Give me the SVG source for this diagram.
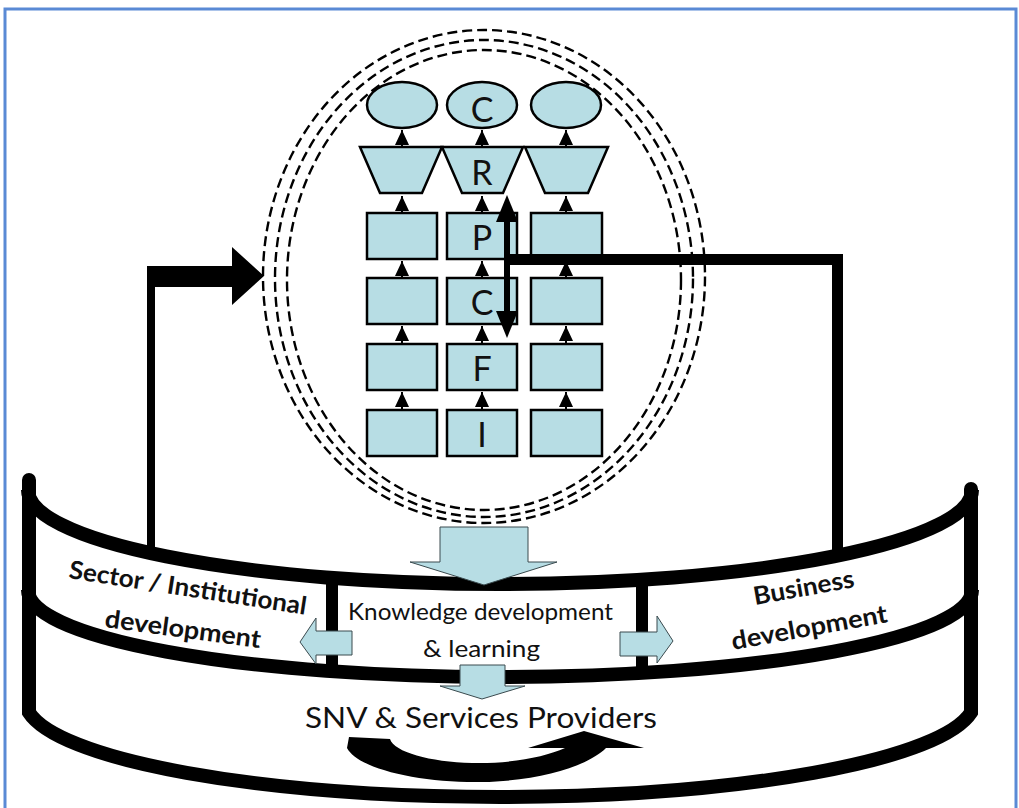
<svg xmlns="http://www.w3.org/2000/svg" width="1019" height="808" viewBox="0 0 1019 808">
  <defs>
    <style>
      .shape{fill:#b7dde4;stroke:#000;stroke-width:2.5}
      .ltr{font-family:Lato,"Open Sans","Liberation Sans",sans-serif;font-size:34px;fill:#111;text-anchor:middle}
      .orbit{fill:none;stroke:#000;stroke-width:2.4;stroke-dasharray:10 5}
      .band{fill:none;stroke:#000;stroke-width:14}
      .link{fill:none;stroke:#000;stroke-width:2;marker-end:url(#tri)}
      .flow{fill:#b7dde4;stroke:#3a4a4e;stroke-width:1}
      .lbl{font-family:Lato,"Open Sans","Liberation Sans",sans-serif;fill:#111}
      .bold{font-weight:bold;font-size:25px}
    </style>
    <marker id="tri" viewBox="0 0 15 14" refX="15" refY="7" markerWidth="15" markerHeight="14" markerUnits="userSpaceOnUse" orient="auto">
      <path d="M0,0 L15,7 L0,14 Z" fill="#000"/>
    </marker>
    <marker id="head" viewBox="0 0 27 22" refX="17" refY="11" markerWidth="27" markerHeight="22" markerUnits="userSpaceOnUse" orient="auto-start-reverse">
      <path d="M0,0 L27,11 L0,22 Z" fill="#000"/>
    </marker>
  </defs>

  <!-- page and frame -->
  <rect x="0" y="0" width="1019" height="808" fill="#fff"/>
  <rect x="5" y="9" width="1011" height="810" fill="#fff" stroke="#5a8ad5" stroke-width="3"/>

  <!-- dashed orbit rings -->
  <g id="orbit">
    <ellipse class="orbit" cx="484" cy="276.5" rx="221" ry="246.5"/>
    <ellipse class="orbit" cx="484" cy="278.5" rx="209" ry="238.5"/>
    <ellipse class="orbit" cx="484" cy="280" rx="197" ry="230"/>
  </g>

  <!-- ribbon base: three elliptical rims between two posts -->
  <g id="ribbon">
    <path class="band" d="M28,490 A472 94 0 0 0 972,490"/>
    <path class="band" d="M28,590 A472 87 0 0 0 972,590"/>
    <path class="band" stroke-linecap="round" d="M29,480 V712.5 A475 97 0 0 0 971,712.5 V489"/>
    <path d="M332,572 V676" stroke="#000" stroke-width="12"/>
    <path d="M642,574 V678" stroke="#000" stroke-width="12"/>
  </g>

  <!-- top row: outcomes -->
  <g id="out-1"><ellipse class="shape" cx="402" cy="105" rx="35" ry="23"/></g>
  <g id="out-2"><ellipse class="shape" cx="482" cy="105" rx="35" ry="23"/><text class="ltr" x="482" y="122">C</text></g>
  <g id="out-3"><ellipse class="shape" cx="566" cy="105" rx="35" ry="23"/></g>

  <!-- trapezoids -->
  <g id="res-1"><polygon class="shape" points="360,147 442,147 422,193 380,193"/></g>
  <g id="res-2"><polygon class="shape" points="442,147 523,147 503,193 462,193"/><text class="ltr" x="482" y="185">R</text></g>
  <g id="res-3"><polygon class="shape" points="525,147 608,147 588,193 545,193"/></g>

  <!-- box rows -->
  <g id="p-1"><rect class="shape" x="367" y="213" width="70" height="46"/></g>
  <g id="p-2"><rect class="shape" x="447" y="213" width="70" height="46"/><text class="ltr" x="482" y="250">P</text></g>
  <g id="p-3"><rect class="shape" x="531" y="213" width="71" height="46"/></g>

  <g id="c-1"><rect class="shape" x="367" y="278" width="70" height="46"/></g>
  <g id="c-2"><rect class="shape" x="447" y="278" width="70" height="46"/><text class="ltr" x="482" y="315">C</text></g>
  <g id="c-3"><rect class="shape" x="531" y="278" width="71" height="46"/></g>

  <g id="f-1"><rect class="shape" x="367" y="344" width="70" height="46"/></g>
  <g id="f-2"><rect class="shape" x="447" y="344" width="70" height="46"/><text class="ltr" x="482" y="381">F</text></g>
  <g id="f-3"><rect class="shape" x="531" y="344" width="71" height="46"/></g>

  <g id="i-1"><rect class="shape" x="367" y="410" width="70" height="46"/></g>
  <g id="i-2"><rect class="shape" x="447" y="410" width="70" height="46"/><text class="ltr" x="482" y="447">I</text></g>
  <g id="i-3"><rect class="shape" x="531" y="410" width="71" height="46"/></g>

  <!-- connectors -->
  <g id="connectors">
    <path class="link" d="M402,147 V130"/>
    <path class="link" d="M482,147 V130"/>
    <path class="link" d="M566,147 V130"/>
    <path class="link" d="M402,213 V196"/>
    <path class="link" d="M482,213 V196"/>
    <path class="link" d="M566,213 V196"/>
    <path class="link" d="M402,278 V261"/>
    <path class="link" d="M482,278 V261"/>
    <path class="link" d="M566,278 V261"/>
    <path class="link" d="M402,344 V326"/>
    <path class="link" d="M482,344 V326"/>
    <path class="link" d="M566,344 V326"/>
    <path class="link" d="M402,410 V392"/>
    <path class="link" d="M482,410 V392"/>
    <path class="link" d="M566,410 V392"/>

    <!-- two-way arrow in the middle column -->
    <path d="M507,205 V328" stroke="#000" stroke-width="6" marker-start="url(#head)" marker-end="url(#head)"/>
    <!-- feedback from business development -->
    <path d="M507,259.5 H837.5 V553" fill="none" stroke="#000" stroke-width="11"/>
    <!-- feedback from sector development -->
    <path d="M151,552 V266" stroke="#000" stroke-width="8"/>
    <polygon points="147,266 232,266 232,247 264,276 232,305 232,287 147,287" fill="#000"/>

    <!-- block arrows -->
    <polygon class="flow" points="440,527 528,527 528,562 557,562 484,585 410,562 440,562"/>
    <polygon class="flow" points="352,631 316,631 316,618 300,642 316,664 316,655 352,655"/>
    <polygon class="flow" points="620,632 657,632 657,616 673,641 657,663 657,656 620,656"/>
    <polygon class="flow" points="460,665 505,665 505,686 525,686 482,699 440,686 460,686"/>

    <!-- cycle arrow -->
    <path d="M349,737 L390,739 C394,752 430,762 472,763 C510,764 545,757 565,748 L528,748 L584,731 L644,748 L606,748 C588,766 540,781 482,782 C420,783 358,769 347,748 Z" fill="#000"/>
  </g>

  <!-- ribbon labels -->
  <g id="sector">
    <text class="lbl bold" transform="translate(68,578) rotate(8.8)" textLength="240" lengthAdjust="spacingAndGlyphs">Sector / Institutional</text>
    <text class="lbl bold" transform="translate(104,627) rotate(7.7)" textLength="157" lengthAdjust="spacingAndGlyphs">development</text>
  </g>
  <g id="knowledge">
    <text class="lbl" x="480.5" y="620" font-size="24" text-anchor="middle" textLength="265" lengthAdjust="spacingAndGlyphs">Knowledge development</text>
    <text class="lbl" x="481.5" y="657" font-size="24" text-anchor="middle" textLength="117" lengthAdjust="spacingAndGlyphs">&amp; learning</text>
  </g>
  <g id="business">
    <text class="lbl bold" font-size="24" transform="translate(755,605) rotate(-10.2)" textLength="102" lengthAdjust="spacingAndGlyphs">Business</text>
    <text class="lbl bold" font-size="24" transform="translate(733,650) rotate(-10.2)" textLength="158" lengthAdjust="spacingAndGlyphs">development</text>
  </g>
  <g id="providers">
    <text class="lbl" x="481" y="728" font-size="29" text-anchor="middle" textLength="352" lengthAdjust="spacingAndGlyphs">SNV &amp; Services Providers</text>
  </g>
</svg>
